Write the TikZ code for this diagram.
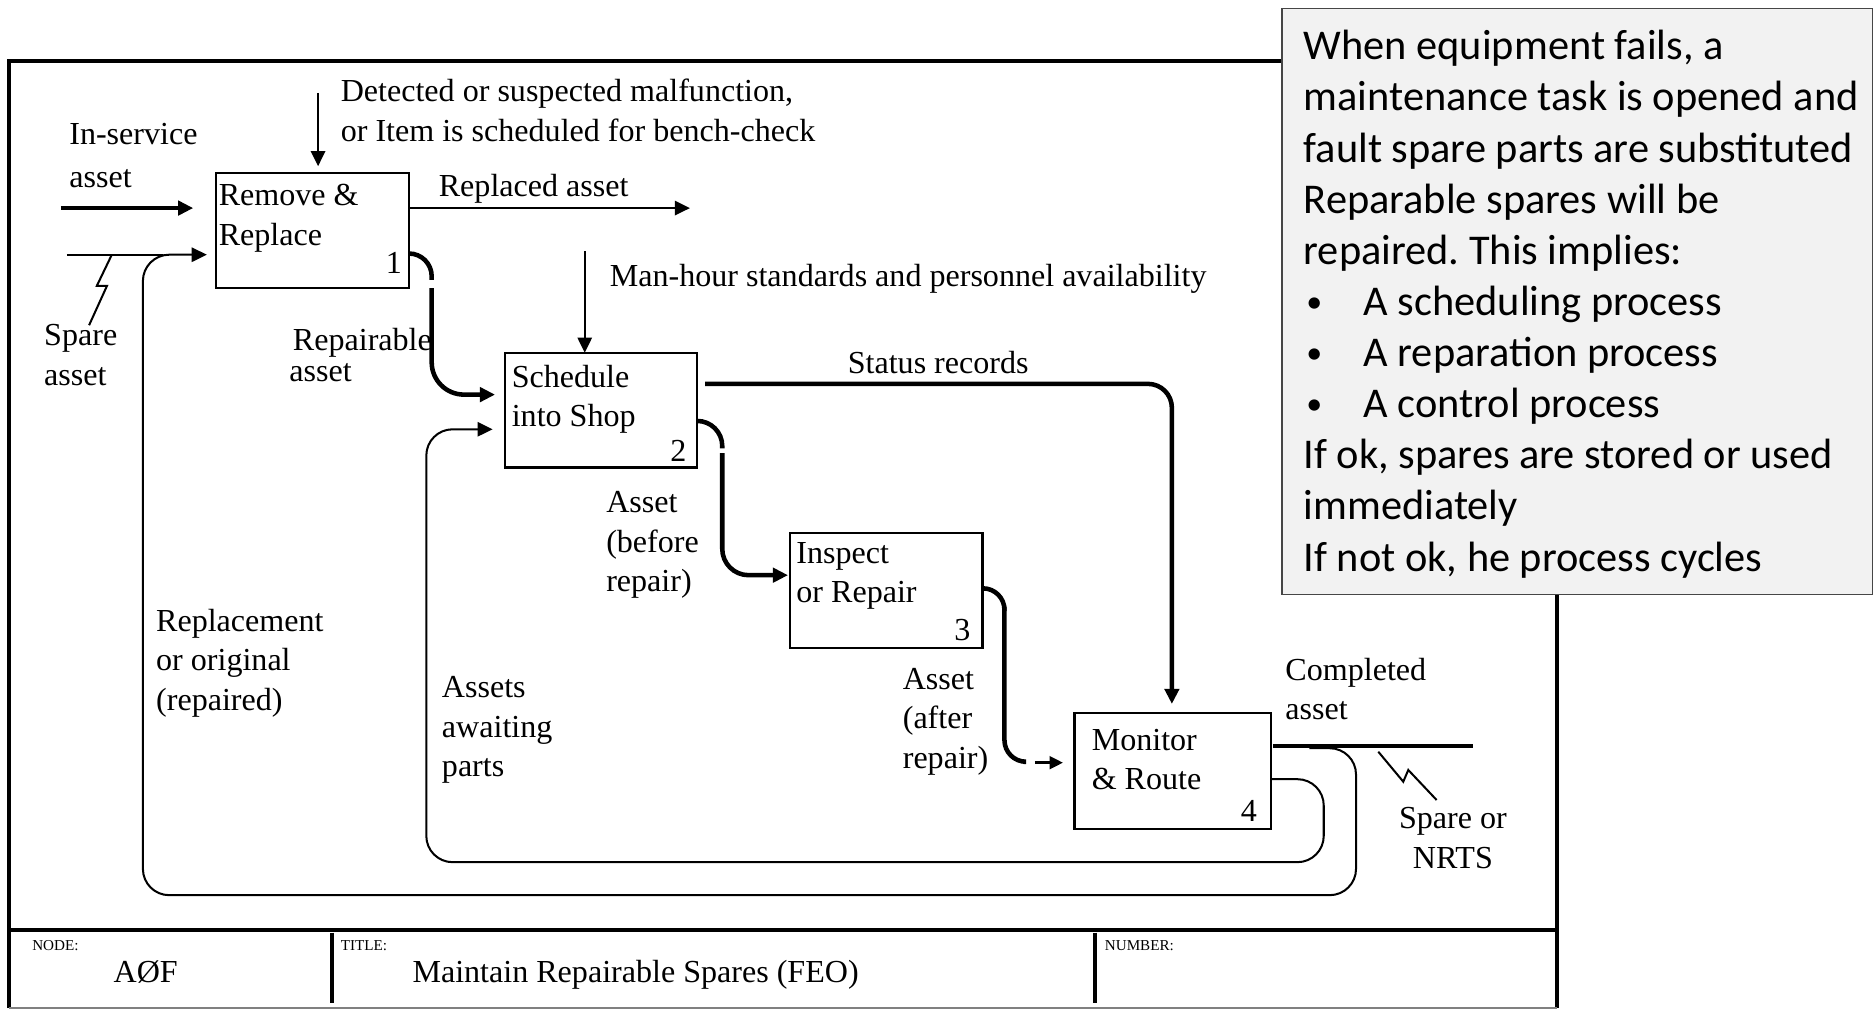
\documentclass[tikz,border=0pt]{standalone}
\usepackage{fontspec}
\setmainfont{Liberation Serif}
\newfontfamily\calibri{Carlito}
\usetikzlibrary{arrows.meta,calc}
\frenchspacing

\newcommand\tmfont{\fontsize{19.07pt}{23.47pt}\selectfont}
\newcommand\smfont{\fontsize{9pt}{11pt}\selectfont}
\newcommand\notefont{\calibri\fontsize{25.2pt}{30.4pt}\selectfont}
\newcommand\notebullet{\makebox[1.25cm][l]{\hspace{1.5pt}\raisebox{2pt}{\fontsize{19pt}{19pt}\selectfont •}}}

\definecolor{notefill}{RGB}{242,242,242}
\definecolor{noteline}{RGB}{70,70,70}

% multi-line labels are anchored at the baseline of their last line
\tikzset{
  procbox/.style={draw, line width=1.3pt, inner sep=0pt, outer sep=0pt},
  lbl/.style={anchor=base west, inner sep=0pt, outer sep=0pt, align=left, font=\tmfont},
  lblc/.style={anchor=base, inner sep=0pt, outer sep=0pt, align=center, font=\tmfont},
  num/.style={anchor=base east, inner sep=0pt, outer sep=0pt, font=\tmfont},
  small/.style={anchor=base west, inner sep=0pt, outer sep=0pt, font=\smfont},
  fine/.style={line width=1.2pt},
  heavy/.style={line width=2.7pt},
  arr/.style={-{Triangle[length=9pt,width=8.5pt]}},
  arrs/.style={-{Triangle[length=8pt,width=7.5pt]}},
  frame/.style={line width=2.8pt},
}

\begin{document}
\begin{tikzpicture}[x=0.025cm, y=-0.025cm]
\useasboundingbox (0,0) rectangle (1568,844);

% sheet frame and title block
\draw[frame] (7.5,843) -- (7.5,51) -- (1302,51) -- (1302,843);
\draw[gray, line width=0.8pt] (7.5,843) -- (1302,843);
\draw[line width=2.4pt] (7.5,777.7) -- (1302,777.7);
\draw[line width=2.4pt] (278,780) -- (278,839);
\draw[line width=2.4pt] (916,780) -- (916,839);
\node[small] (tnode) at (27,794.5) {NODE:};
\node[small] (ttitle) at (285,794.5) {TITLE:};
\node[small] (tnum) at (924,794.5) {NUMBER:};
\node[lbl] (nodeid) at (95,822) {AØF};
\node[lbl] (title) at (345,822) {Maintain Repairable Spares (FEO)};

% activity boxes
\node[procbox, minimum width=4.035cm, minimum height=2.4025cm] (b1) at (261.3,192.55) {};
\node[procbox, minimum width=4.025cm, minimum height=2.4cm] (b2) at (502.5,343) {};
\node[procbox, minimum width=4.0275cm, minimum height=2.4cm] (b3) at (741.05,494) {};
\node[procbox, minimum width=4.11cm, minimum height=2.4125cm] (b4) at (980.8,644.75) {};

\node[lbl] (b1t) at (183,205) {Remove \&\\Replace};
\node[lbl] (b2t) at (428,357) {Schedule\\into Shop};
\node[lbl] (b3t) at (666,504) {Inspect\\or Repair};
\node[lbl] (b4t) at (913,660.6) {Monitor\\\& Route};
\node[num] (b1n) at (336,229) {1};
\node[num] (b2n) at (574,386) {2};
\node[num] (b3n) at (811.6,536) {3};
\node[num] (b4n) at (1051,687) {4};

% controls
\coordinate (c1) at (266,77.6);
\draw[fine, arr, shorten >=3.9pt] (c1) -- (c1 |- b1.north);
\coordinate (c2) at (489,210);
\draw[fine, arr] (c2) -- (c2 |- b2.north);

% inputs of box 1
\coordinate (in1) at (51,174);
\draw[heavy, arr] (in1) -- ($(b1.west |- in1)+(-19,0)$);
\coordinate (sp1) at (56,213);
\draw[fine] (sp1) -- (136.6,213);
\draw[fine] (93.5,213) -- (81,239) -- (89.5,239) -- (74.5,272);

% output of box 1
\draw[fine, arr] ($(b1.east)+(0,-18.55)$) -- (577,174);

% box 1 to box 2
\draw[heavy, rounded corners=0.475cm] ($(b1.east)+(0,19.45)$) -- (361,212) -- (361,234);
\draw[heavy, rounded corners=0.675cm, arr] (361,241) -- (361,330) -- ($(b2.west)+(-8,-13)$);

% box 2 to box 3
\draw[heavy, rounded corners=0.525cm] ($(b2.east)+(0,9)$) -- (604,352) -- (604,375);
\draw[heavy, rounded corners=0.55cm, arr] (604,379) -- (604,481) -- ($(b3.west)+(-1.5,-13)$);

% box 3 to box 4
\draw[heavy, rounded corners=0.45cm] ($(b3.east)+(0,-2)$) -- (840,492) -- (840,511);
\draw[heavy, rounded corners=0.45cm, line cap=round] (840,508) -- (840,637) -- (856,637);
\draw[line width=1.8pt, arrs] (865.5,637.8) -- ($(b4.west)+(-9.6,-6.95)$);

% status records into box 4
\draw[heavy, rounded corners=0.5cm, arr] ($(b2.east)+(6.7,-22)$) -- (980,321) -- ($(b4.north)+(-0.8,-7.8)$);

% output of box 4
\draw[heavy] ($(b4.east)+(1.7,-20.75)$) -- (1231.6,624);
\draw[fine] (1152.6,628.6) -- (1173.5,653.7) -- (1177.7,643.9) -- (1201.4,669);

% feedback loops
\draw[fine, rounded corners=0.55cm, arr] (1095,625.7) -- (1134,625.7) -- (1134,748.6)
  -- (119.5,748.6) -- (119.5,213) -- ($(b1.west)+(-7.6,20.45)$);
\draw[fine, rounded corners=0.55cm, arr] ($(b4.east)+(0,6.85)$) -- (1107,651.6) -- (1107,721)
  -- (356.5,721) -- (356.5,359) -- ($(b2.west)+(-10,16)$);

% arrow labels
\node[lbl] (ldet) at (285,118) {Detected or suspected malfunction,\\or Item is scheduled for bench-check};
\node[lbl] (lins) at (58,157) {In-service\\[2.1pt]asset};
\node[lbl] (lspa) at (37,322) {Spare\\asset};
\node[lbl] (lrep) at (367,164.5) {Replaced asset};
\node[lbl] (lman) at (510,240) {Man-hour standards and personnel availability};
\node[lbl] (lrpa) at (245,293) {Repairable};
\node[lbl] (lrpb) at (242,319) {asset};
\node[lbl] (lsta) at (709,312) {Status records};
\node[lbl] (lbef) at (507,495) {Asset\\(before\\repair)};
\node[lbl] (laft) at (755,642.6) {Asset\\(after\\repair)};
\node[lbl] (lcom) at (1075,602) {Completed\\asset};
\node[lblc] (lsor) at (1215,726) {Spare or\\NRTS};
\node[lbl] (lrpl) at (130.6,593.8) {Replacement\\or original\\(repaired)};
\node[lbl] (lawp) at (369.6,649.5) {Assets\\awaiting\\parts};

% explanatory note
\node[fill=notefill, draw=noteline, line width=0.9pt, minimum width=12.35cm, minimum height=12.25cm, inner sep=0pt] (note) at (1319,252) {};
\node[anchor=base west, inner sep=0pt, align=left, font=\notefont] (notet) at (1090,477.5)
  {When equipment fails, a\\
   maintenance task is opened and\\
   fault spare parts are substituted\\
   Reparable spares will be\\
   repaired. This implies:\\
   \notebullet A scheduling process\\
   \notebullet A reparation process\\
   \notebullet A control process\\
   If ok, spares are stored or used\\
   immediately\\
   If not ok, he process cycles};
\end{tikzpicture}
\end{document}
